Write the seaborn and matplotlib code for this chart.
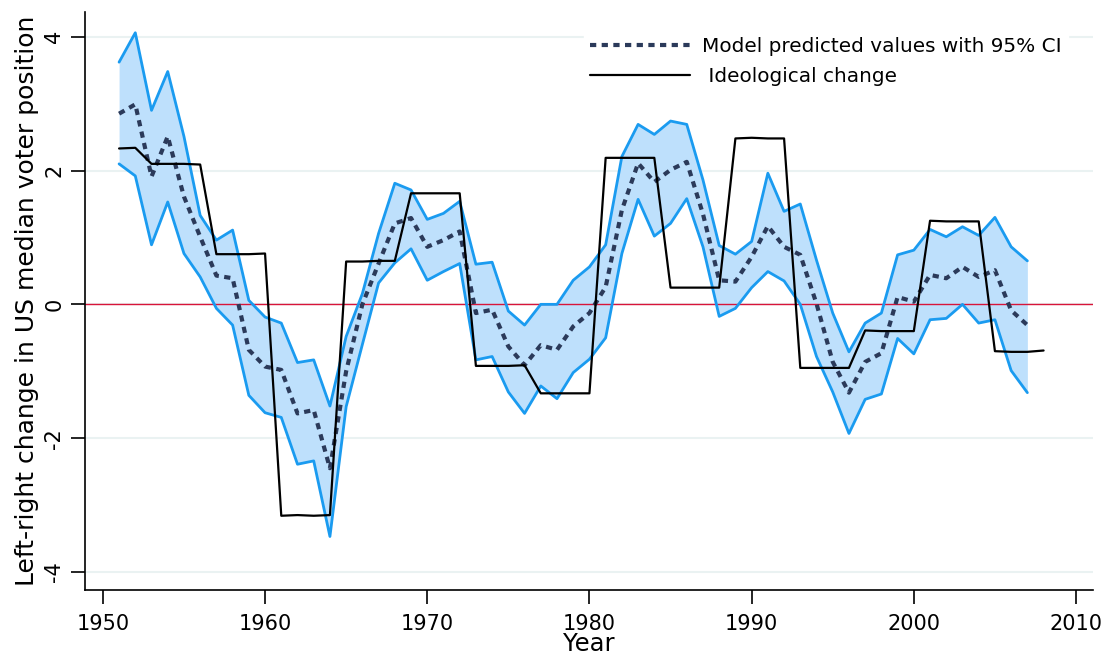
import pandas as pd
import matplotlib
matplotlib.use("Agg")
import matplotlib.pyplot as plt
import seaborn as sns

# annual values
years = list(range(1951, 2008))
predicted = [2.85, 2.99, 1.91, 2.51, 1.61, 1.01, 0.43, 0.39, -0.68, -0.93,
             -0.98, -1.63, -1.58, -2.45, -1.00, 0.00, 0.61, 1.21, 1.29, 0.86,
             0.96, 1.09, -0.13, -0.08, -0.63, -0.91, -0.61, -0.68, -0.33, -0.13,
             0.26, 1.41, 2.11, 1.83, 2.01, 2.13, 1.35, 0.36, 0.34, 0.71,
             1.17, 0.86, 0.74, 0.01, -0.86, -1.32, -0.86, -0.73, 0.11, 0.04,
             0.44, 0.39, 0.56, 0.41, 0.51, -0.09, -0.31]
ci_upper = [3.62, 4.06, 2.90, 3.48, 2.51, 1.33, 0.96, 1.11, 0.06, -0.19,
            -0.28, -0.87, -0.83, -1.52, -0.48, 0.16, 1.06, 1.81, 1.71, 1.27,
            1.36, 1.54, 0.60, 0.63, -0.10, -0.31, 0.00, 0.00, 0.36, 0.56,
            0.89, 2.21, 2.69, 2.54, 2.74, 2.69, 1.86, 0.88, 0.75, 0.94,
            1.96, 1.39, 1.50, 0.66, -0.13, -0.71, -0.28, -0.13, 0.74, 0.81,
            1.12, 1.01, 1.16, 1.03, 1.30, 0.86, 0.65]
ci_lower = [2.10, 1.92, 0.89, 1.53, 0.76, 0.41, -0.06, -0.31, -1.36, -1.62,
            -1.69, -2.39, -2.34, -3.47, -1.53, -0.60, 0.32, 0.62, 0.83, 0.36,
            0.49, 0.61, -0.83, -0.78, -1.31, -1.63, -1.22, -1.41, -1.02, -0.82,
            -0.50, 0.76, 1.57, 1.02, 1.21, 1.58, 0.86, -0.18, -0.06, 0.25,
            0.49, 0.35, 0.00, -0.78, -1.31, -1.93, -1.42, -1.34, -0.51, -0.74,
            -0.23, -0.21, 0.00, -0.28, -0.23, -0.99, -1.32]

change_years = list(range(1951, 2009))
ideo_change = [2.33, 2.34, 2.10, 2.10, 2.10, 2.09, 0.75, 0.75, 0.75, 0.76,
               -3.16, -3.15, -3.16, -3.15, 0.64, 0.64, 0.65, 0.65, 1.66, 1.66,
               1.66, 1.66, -0.92, -0.92, -0.92, -0.91, -1.33, -1.33, -1.33, -1.33,
               2.19, 2.19, 2.19, 2.19, 0.25, 0.25, 0.25, 0.25, 2.48, 2.49,
               2.48, 2.48, -0.95, -0.95, -0.95, -0.95, -0.39, -0.40, -0.40, -0.40,
               1.25, 1.24, 1.24, 1.24, -0.70, -0.71, -0.71, -0.69]

df_model = pd.DataFrame({"Year": years, "Predicted": predicted,
                         "Upper": ci_upper, "Lower": ci_lower})
df_ideo = pd.DataFrame({"Year": change_years, "Change": ideo_change})

sns.set_theme(style="white")
plt.rcParams["font.family"] = ["DejaVu Sans"]
plt.rcParams["text.color"] = "black"
plt.rcParams["axes.labelcolor"] = "black"
plt.rcParams["xtick.color"] = "black"
plt.rcParams["ytick.color"] = "black"

fig = plt.figure(figsize=(11.07, 6.56), dpi=100)
ax = fig.add_axes([0.0768, 0.1006, 0.9106, 0.8811])

ax.fill_between(df_model["Year"], df_model["Lower"], df_model["Upper"],
                color="#BEE0FC", lw=0, zorder=2)
sns.lineplot(data=df_model, x="Year", y="Upper", ax=ax, color="#1A9BF0", lw=2, zorder=3)
sns.lineplot(data=df_model, x="Year", y="Lower", ax=ax, color="#1A9BF0", lw=2, zorder=3)
ax.axhline(0, color="#D8143A", lw=1, zorder=2.5)
sns.lineplot(data=df_model, x="Year", y="Predicted", ax=ax, color="#2B3A5A", lw=3,
             zorder=4, label="Model predicted values with 95% CI")
ax.lines[-1].set_dashes((1.5, 1.3))
ax.lines[-1].set_dash_capstyle("butt")
sns.lineplot(data=df_ideo, x="Year", y="Change", ax=ax, color="black", lw=1.6,
             zorder=5, label=" Ideological change")

ax.set_xlim(1948.9, 2011.05)
ax.set_ylim(-4.27, 4.37)
ax.set_xticks(range(1950, 2011, 10))
ax.set_yticks([-4, -2, 0, 2, 4])
ax.set_yticklabels(["-4", "-2", "0", "2", "4"], rotation=90, va="center")
ax.tick_params(axis="both", direction="out", length=10, width=1.2, color="black",
               labelsize=15, left=True, bottom=True)
ax.tick_params(axis="x", pad=7)
ax.tick_params(axis="y", pad=5)
ax.grid(axis="y", color="#EAF2F2", lw=1.5, zorder=0)
ax.set_axisbelow(True)

for side in ["top", "right"]:
    ax.spines[side].set_visible(False)
for side in ["left", "bottom"]:
    ax.spines[side].set_color("black")
    ax.spines[side].set_linewidth(1.2)

ax.set_xlabel("Year", fontsize=17.5, labelpad=-1.5)
ax.set_ylabel("Left-right change in US median voter position", fontsize=18, labelpad=4)

leg = ax.legend(loc="upper right", bbox_to_anchor=(0.985, 0.985), frameon=True,
                fontsize=14.4, handlelength=5.0, handletextpad=0.6,
                labelspacing=0.55, borderpad=0.3)
leg.get_frame().set_facecolor("white")
leg.get_frame().set_edgecolor("white")
leg.get_frame().set_alpha(1)
leg.legend_handles[0].set_dashes((1.5, 1.3))

fig.savefig("out.png", dpi=100)
